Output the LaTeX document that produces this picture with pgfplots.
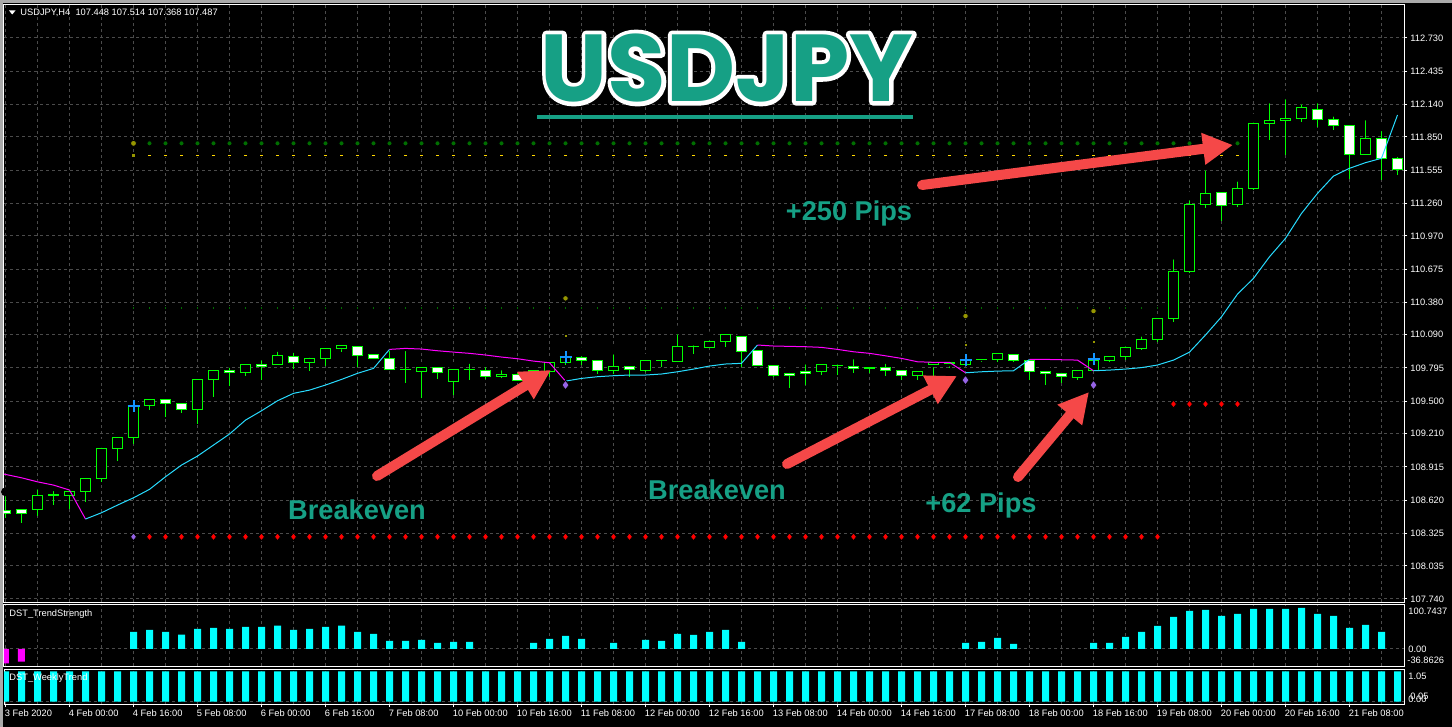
\documentclass[border=0pt]{standalone}
\usepackage{pgfplots}
\pgfplotsset{compat=1.18}
\usepackage{pgfplotstable}
\usetikzlibrary{arrows.meta}
\usepackage{fontspec}
\setmainfont{Liberation Sans}
\newfontfamily\titlefont{Poppins}
\newcommand\tf{\fontsize{4.65}{5.5}\selectfont}
\definecolor{cgreen}{RGB}{0,255,0}
\definecolor{mag}{RGB}{255,0,255}
\definecolor{tcyan}{RGB}{40,220,255}
\definecolor{bcyan}{RGB}{0,255,255}
\definecolor{gridgray}{RGB}{75,75,75}
\definecolor{tealtxt}{RGB}{22,160,133}
\definecolor{arrowred}{RGB}{245,72,72}
\definecolor{dkgreen}{RGB}{0,110,0}
\definecolor{dotyellow}{RGB}{255,215,0}
\definecolor{olive2}{RGB}{150,150,0}
\definecolor{mpurple}{RGB}{150,100,230}
\definecolor{crossblue}{RGB}{20,150,255}
\definecolor{bordergray}{RGB}{170,170,170}

\pgfplotstableread{
i O H L C
0 108.531 108.693 108.457 108.501
1 108.537 108.575 108.412 108.501
2 108.537 108.753 108.477 108.664
3 108.664 108.738 108.575 108.669
4 108.658 108.709 108.540 108.697
5 108.693 108.851 108.604 108.813
6 108.813 109.124 108.782 109.080
7 109.080 109.198 108.969 109.177
8 109.177 109.494 109.118 109.456
9 109.459 109.545 109.420 109.516
10 109.516 109.520 109.361 109.480
11 109.480 109.494 109.396 109.427
12 109.427 109.717 109.296 109.693
13 109.693 109.800 109.539 109.774
14 109.774 109.836 109.637 109.756
15 109.756 109.845 109.726 109.827
16 109.830 109.901 109.687 109.809
17 109.827 109.978 109.827 109.910
18 109.898 109.969 109.788 109.845
19 109.845 109.925 109.770 109.880
20 109.880 109.990 109.812 109.969
21 109.969 109.999 109.939 109.999
22 109.990 110.014 109.806 109.910
23 109.916 109.934 109.871 109.880
24 109.880 109.984 109.782 109.782
25 109.782 109.984 109.663 109.785
26 109.761 109.800 109.524 109.800
27 109.800 109.821 109.693 109.756
28 109.672 109.806 109.554 109.785
29 109.783 109.871 109.687 109.785
30 109.770 109.841 109.693 109.723
31 109.717 109.812 109.702 109.738
32 109.738 109.791 109.681 109.687
33 109.717 109.791 109.702 109.770
34 109.761 109.841 109.717 109.841
35 109.845 109.939 109.821 109.889
36 109.889 109.939 109.821 109.859
37 109.865 109.889 109.741 109.770
38 109.770 109.954 109.741 109.812
39 109.812 109.836 109.717 109.782
40 109.776 109.880 109.761 109.865
41 109.859 109.894 109.806 109.862
42 109.850 110.132 109.850 109.990
43 109.984 110.034 109.916 109.987
44 109.978 110.079 109.978 110.034
45 110.028 110.112 109.984 110.094
46 110.079 110.103 109.800 109.939
47 109.948 109.984 109.818 109.818
48 109.814 109.845 109.711 109.726
49 109.747 109.791 109.613 109.726
50 109.767 109.865 109.643 109.747
51 109.761 109.845 109.732 109.830
52 109.814 109.865 109.732 109.818
53 109.812 109.910 109.747 109.791
54 109.791 109.836 109.747 109.800
55 109.800 109.871 109.726 109.770
56 109.770 109.806 109.687 109.726
57 109.726 109.791 109.687 109.767
58 109.827 109.841 109.702 109.841
59 109.839 109.847 109.791 109.841
60 109.830 109.925 109.821 109.865
61 109.871 109.894 109.845 109.874
62 109.871 109.960 109.850 109.925
63 109.916 109.939 109.845 109.859
64 109.865 109.871 109.687 109.761
65 109.767 109.797 109.643 109.743
66 109.747 109.791 109.658 109.717
67 109.711 109.800 109.687 109.776
68 109.770 109.939 109.770 109.865
69 109.865 109.936 109.847 109.901
70 109.901 110.025 109.865 109.981
71 109.969 110.112 109.954 110.049
72 110.049 110.236 110.023 110.236
73 110.236 110.799 110.206 110.651
74 110.651 111.324 110.642 111.250
75 111.250 111.591 111.220 111.348
76 111.357 111.378 111.104 111.238
77 111.250 111.491 111.229 111.393
78 111.389 112.016 111.378 111.971
79 111.971 112.187 111.822 112.000
80 111.994 112.223 111.689 112.016
81 112.016 112.178 111.985 112.113
82 112.096 112.187 111.941 112.007
83 112.007 112.069 111.911 111.953
84 111.956 111.985 111.476 111.695
85 111.695 112.036 111.695 111.838
86 111.838 111.941 111.467 111.660
87 111.660 111.710 111.511 111.556
}\ohlc

\pgfplotstableread{
i g yl s r
8 nan nan 110.330 nan
9 111.793 111.683 110.330 108.293
10 111.793 111.683 110.330 108.293
11 111.793 111.683 110.330 108.293
12 111.793 111.683 110.330 108.293
13 111.793 111.683 110.330 108.293
14 111.793 111.683 110.330 108.293
15 111.793 111.683 110.330 108.293
16 111.793 111.683 110.330 108.293
17 111.793 111.683 110.330 108.293
18 111.793 111.683 110.330 108.293
19 111.793 111.683 110.330 108.293
20 111.793 111.683 110.330 108.293
21 111.793 111.683 110.330 108.293
22 111.793 111.683 110.330 108.293
23 111.793 111.683 110.330 108.293
24 111.793 111.683 110.330 108.293
25 111.793 111.683 110.330 108.293
26 111.793 111.683 110.330 108.293
27 111.793 111.683 110.330 108.293
28 111.793 111.683 110.330 108.293
29 111.793 111.683 110.330 108.293
30 111.793 111.683 110.330 108.293
31 111.793 111.683 110.330 108.293
32 111.793 111.683 110.330 108.293
33 111.793 111.683 110.330 108.293
34 111.793 111.683 110.330 108.293
35 111.793 111.683 110.330 108.293
36 111.793 111.683 110.330 108.293
37 111.793 111.683 110.330 108.293
38 111.793 111.683 110.330 108.293
39 111.793 111.683 110.330 108.293
40 111.793 111.683 110.330 108.293
41 111.793 111.683 110.330 108.293
42 111.793 111.683 110.330 108.293
43 111.793 111.683 110.330 108.293
44 111.793 111.683 110.330 108.293
45 111.793 111.683 110.330 108.293
46 111.793 111.683 110.330 108.293
47 111.793 111.683 110.330 108.293
48 111.793 111.683 110.330 108.293
49 111.793 111.683 110.330 108.293
50 111.793 111.683 110.330 108.293
51 111.793 111.683 110.330 108.293
52 111.793 111.683 110.330 108.293
53 111.793 111.683 110.330 108.293
54 111.793 111.683 110.330 108.293
55 111.793 111.683 110.330 108.293
56 111.793 111.683 110.330 108.293
57 111.793 111.683 110.330 108.293
58 111.793 111.683 110.330 108.293
59 111.793 111.683 110.330 108.293
60 111.793 111.683 110.330 108.293
61 111.793 111.683 110.330 108.293
62 111.793 111.683 110.330 108.293
63 111.793 111.683 110.330 108.293
64 111.793 111.683 110.330 108.293
65 111.793 111.683 110.330 108.293
66 111.793 111.683 110.330 108.293
67 111.793 111.683 110.330 108.293
68 111.793 111.683 110.330 108.293
69 111.793 111.683 110.330 108.293
70 111.793 111.683 110.330 108.293
71 111.793 111.683 110.330 108.293
72 111.793 111.683 110.330 108.293
73 111.793 111.683 nan 109.474
74 111.793 111.683 nan 109.474
75 111.793 111.683 nan 109.474
76 111.793 111.683 nan 109.474
77 111.793 111.683 nan 109.474
}\dotrows

\pgfplotstableread{
i v
8 39.0
9 43.6
10 39.0
11 32.9
12 45.9
13 48.2
14 45.9
15 50.5
16 50.5
17 53.5
18 43.6
19 45.9
20 50.5
21 53.5
22 39.0
23 34.4
24 18.3
25 18.3
26 20.6
27 13.8
28 16.1
29 16.1
33 13.8
34 22.9
35 29.8
36 22.9
38 13.8
40 20.6
41 18.3
42 34.4
43 32.1
44 39.0
45 43.6
46 16.1
60 13.8
61 16.1
62 25.2
63 11.5
68 13.8
69 13.8
70 27.5
71 39.0
72 52.8
73 73.4
74 87.2
75 89.4
76 75.7
77 80.3
78 91.7
79 91.7
80 91.7
81 94.0
82 80.3
83 75.7
84 48.2
85 55.0
86 39.0
}\strength

\newcommand\titletext{\titlefont\bfseries\fontsize{47.5}{48}\selectfont USDJPY}

\begin{document}
\begin{tikzpicture}
\useasboundingbox (0,0) rectangle (726pt,-363.5pt);
\fill[black] (0,0) rectangle (726pt,-363.5pt);
\fill[bordergray] (0,0) rectangle (726pt,-1.5pt);
\fill[bordergray] (0,0) rectangle (1.5pt,-363.5pt);

% ---------------- main price panel ----------------
\begin{axis}[
  at={(2pt,-2.5pt)}, anchor=north west,
  scale only axis, width=700pt, height=298.5pt,
  xmin=-0.09375, xmax=87.40625, ymin=107.712, ymax=113.0235,
  axis line style={white, line width=0.5pt},
  xtick={0,2,...,86}, xticklabels={}, x tick style={draw=none},
  xmajorgrids, ymajorgrids,
  grid style={draw=gridgray, dash pattern=on 1.5pt off 1.5pt, line width=0.5pt},
  ytick={107.740,108.035,108.325,108.620,108.915,109.210,109.500,109.795,110.090,110.380,110.675,110.970,111.260,111.555,111.850,112.140,112.435,112.730},
  yticklabels={107.740,108.035,108.325,108.620,108.915,109.210,109.500,109.795,110.090,110.380,110.675,110.970,111.260,111.555,111.850,112.140,112.435,112.730},
  ytick pos=right, yticklabel pos=right,
  tick align=outside, major tick length=1.5pt,
  y tick style={white, line width=0.5pt},
  yticklabel style={font=\tf, text=white, anchor=west, inner sep=0pt, xshift=1.5pt},
  /pgf/number format/assume math mode=true,
  clip mode=individual,
]
% wicks
\addplot[only marks, mark=none, forget plot, error bars/.cd, y dir=minus, y explicit, error mark=none,
  error bar style={draw=cgreen, line width=0.5pt, solid}]
  table[x=i, y=H, y error minus expr={\thisrow{H}-\thisrow{L}}] {\ohlc};
% candle bodies: one closed rectangle per row of the table
\pgfplotsinvokeforeach{0,...,87}{%
  \pgfplotstablegetelem{#1}{O}\of\ohlc \edef\vO{\pgfplotsretval}%
  \pgfplotstablegetelem{#1}{C}\of\ohlc \edef\vC{\pgfplotsretval}%
  \pgfmathsetmacro\vTop{max(\vO,\vC)}%
  \pgfmathsetmacro\vBot{min(\vO,\vC)}%
  \pgfmathsetmacro\xa{#1-0.285}%
  \pgfmathsetmacro\xb{#1+0.285}%
  \pgfmathparse{\vC>\vO ? 1 : 0}%
  \ifdim\pgfmathresult pt>0.5pt \def\bodycol{black}\else\def\bodycol{white}\fi
  \edef\doplot{\noexpand\addplot[draw=cgreen, line width=0.5pt, fill=\bodycol, forget plot] coordinates {(\xa,\vBot) (\xb,\vBot) (\xb,\vTop) (\xa,\vTop)} --cycle;}%
  \doplot
}

% trend lines
\addplot[mag, line width=0.5pt, mark=none] coordinates {(-0.1,108.851) (0,108.848) (1,108.818) (2,108.782) (3,108.753) (4,108.709) (5,108.451)};
\addplot[tcyan, line width=0.5pt, mark=none] coordinates {(5,108.451) (6,108.507) (7,108.575) (8,108.640) (9,108.715) (10,108.827) (11,108.931) (12,109.011) (13,109.109) (14,109.207) (15,109.331) (16,109.414) (17,109.503) (18,109.569) (19,109.598) (20,109.643) (21,109.693) (22,109.747) (23,109.791) (24,109.960)};
\addplot[mag, line width=0.5pt, mark=none] coordinates {(24,109.960) (25,109.969) (26,109.963) (27,109.948) (28,109.936) (29,109.925) (30,109.910) (31,109.892) (32,109.877) (33,109.856) (34,109.841) (35,109.678)};
\addplot[tcyan, line width=0.5pt, mark=none] coordinates {(35,109.678) (36,109.702) (37,109.717) (38,109.726) (39,109.732) (40,109.732) (41,109.741) (42,109.761) (43,109.785) (44,109.812) (45,109.830) (46,109.836) (47,109.999)};
\addplot[mag, line width=0.5pt, mark=none] coordinates {(47,109.999) (48,109.990) (49,109.987) (50,109.984) (51,109.978) (52,109.960) (53,109.939) (54,109.925) (55,109.903) (56,109.880) (57,109.850) (58,109.845) (59,109.845) (60,109.752)};
\addplot[tcyan, line width=0.5pt, mark=none] coordinates {(60,109.752) (61,109.761) (62,109.767) (63,109.770) (64,109.871)};
\addplot[mag, line width=0.5pt, mark=none] coordinates {(64,109.871) (65,109.871) (66,109.868) (67,109.865) (68,109.770)};
\addplot[tcyan, line width=0.5pt, mark=none] coordinates {(68,109.770) (69,109.776) (70,109.785) (71,109.798) (72,109.821) (73,109.865) (74,109.936) (75,110.088) (76,110.250) (77,110.452) (78,110.592) (79,110.784) (80,110.948) (81,111.170) (82,111.348) (83,111.502) (84,111.571) (85,111.621) (86,111.660) (87,112.045)};

% dotted levels
\addplot[only marks, mark=*, mark size=1.3pt, mark options={draw=none, fill=dkgreen}] table[x=i, y=g] {\dotrows};
\addplot[only marks, mark=square*, mark size=0.9pt, mark options={draw=none, fill=dotyellow, yscale=0.65}] table[x=i, y=yl] {\dotrows};
\addplot[only marks, mark=square*, mark size=0.55pt, mark options={draw=none, fill=dkgreen}] table[x=i, y=s] {\dotrows};
\addplot[only marks, mark=diamond*, mark size=2pt, mark options={draw=none, fill=red}] table[x=i, y=r] {\dotrows};
\addplot[only marks, mark=*, mark size=1.5pt, mark options={draw=none, fill=olive2}] coordinates {(8,111.793)};
\addplot[only marks, mark=square*, mark size=0.9pt, mark options={draw=none, fill=olive2}] coordinates {(8,111.683)};
\addplot[only marks, mark=diamond*, mark size=2pt, mark options={draw=none, fill=mpurple}] coordinates {(8,108.293)};
% signals
\addplot[only marks, mark=diamond*, mark size=2.4pt, mark options={draw=none, fill=mpurple}] coordinates {(35,109.643) (60,109.687) (68,109.643)};
\addplot[only marks, mark=+, mark size=3pt, mark options={draw=crossblue, line width=1pt}] coordinates {(8,109.456) (35,109.889) (60,109.865) (68,109.871)};
\addplot[only marks, mark=*, mark size=1.4pt, mark options={draw=none, fill=olive2}] coordinates {(35,110.414) (60,110.257) (68,110.301)};
\addplot[only marks, mark=square*, mark size=0.7pt, mark options={draw=none, fill=olive2}] coordinates {(35,110.079) (60,110.000) (68,110.028)};
\end{axis}

% ---------------- DST_TrendStrength ----------------
\begin{axis}[
  at={(2pt,-302pt)}, anchor=north west,
  scale only axis, width=700pt, height=31pt,
  xmin=-0.09375, xmax=87.40625, ymin=-39.15, ymax=103.0,
  axis line style={white, line width=0.5pt},
  xtick={0,2,...,86}, xticklabels={}, x tick style={draw=none},
  ytick={0}, yticklabels={}, y tick style={draw=none},
  xmajorgrids, ymajorgrids,
  grid style={draw=gridgray, dash pattern=on 1.5pt off 1.5pt, line width=0.5pt},
  clip mode=individual,
]
\addplot[ybar, bar width=3.5pt, fill=bcyan, draw=none] table[x=i, y=v] {\strength};
\addplot[ybar, bar width=3.5pt, fill=mag, draw=none] coordinates {(0,-32.9) (1,-29.1)};
\end{axis}

% ---------------- DST_WeeklyTrend ----------------
\begin{axis}[
  at={(2pt,-334.5pt)}, anchor=north west,
  scale only axis, width=700pt, height=17.5pt,
  xmin=-0.09375, xmax=87.40625, ymin=-0.08, ymax=1.08,
  axis line style={white, line width=0.5pt},
  xtick={0,4,...,84}, minor xtick={2,6,...,86},
  xticklabels={3 Feb 2020,4 Feb 00:00,4 Feb 16:00,5 Feb 08:00,6 Feb 00:00,6 Feb 16:00,7 Feb 08:00,10 Feb 00:00,10 Feb 16:00,11 Feb 08:00,12 Feb 00:00,12 Feb 16:00,13 Feb 08:00,14 Feb 00:00,14 Feb 16:00,17 Feb 08:00,18 Feb 00:00,18 Feb 16:00,19 Feb 08:00,20 Feb 00:00,20 Feb 16:00,21 Feb 08:00},
  xtick pos=left, tick align=outside, major tick length=1.5pt, minor tick length=0pt,
  x tick style={white, line width=0.5pt},
  xticklabel style={font=\tf, text=white, anchor=north west, inner sep=0pt, xshift=-0.5pt, yshift=-1pt},
  ytick={0}, yticklabels={}, y tick style={draw=none},
  xmajorgrids, xminorgrids, ymajorgrids,
  grid style={draw=gridgray, dash pattern=on 1.5pt off 1.5pt, line width=0.5pt},
  minor grid style={draw=gridgray, dash pattern=on 1.5pt off 1.5pt, line width=0.5pt},
  clip mode=individual,
]
\addplot[ybar, bar width=3.5pt, fill=bcyan, draw=none] coordinates {(0,1) (1,1) (2,1) (3,1) (4,1) (5,1) (6,1) (7,1) (8,1) (9,1) (10,1) (11,1) (12,1) (13,1) (14,1) (15,1) (16,1) (17,1) (18,1) (19,1) (20,1) (21,1) (22,1) (23,1) (24,1) (25,1) (26,1) (27,1) (28,1) (29,1) (30,1) (31,1) (32,1) (33,1) (34,1) (35,1) (36,1) (37,1) (38,1) (39,1) (40,1) (41,1) (42,1) (43,1) (44,1) (45,1) (46,1) (47,1) (48,1) (49,1) (50,1) (51,1) (52,1) (53,1) (54,1) (55,1) (56,1) (57,1) (58,1) (59,1) (60,1) (61,1) (62,1) (63,1) (64,1) (65,1) (66,1) (67,1) (68,1) (69,1) (70,1) (71,1) (72,1) (73,1) (74,1) (75,1) (76,1) (77,1) (78,1) (79,1) (80,1) (81,1) (82,1) (83,1) (84,1) (85,1) (86,1) (87,1)};
\end{axis}

% ---------------- annotations (pixel coordinates) ----------------
\begin{scope}[x=0.5pt, y=-0.5pt]
  % header
  \fill[white] (9,10.5) -- (15.5,10.5) -- (12.25,14.5) -- cycle;
  \node[anchor=west, inner sep=0pt, text=white, font=\tf] at (20,12.5) {USDJPY,H4\ \ 107.448 107.514 107.368 107.487};
  % sub panel titles
  \node[anchor=west, inner sep=0pt, text=white, font=\tf] at (9,613.7) {DST\_TrendStrength};
  \node[anchor=west, inner sep=0pt, text=white, font=\tf] at (9,677.7) {DST\_WeeklyTrend};
  % sub panel scale labels
  \node[anchor=west, inner sep=0pt, text=white, font=\tf] at (1408,611.7) {100.7437};
  \node[anchor=west, inner sep=0pt, text=white, font=\tf] at (1408,649.3) {0.00};
  \node[anchor=west, inner sep=0pt, text=white, font=\tf] at (1407,660) {-36.8626};
  \node[anchor=west, inner sep=0pt, text=white, font=\tf] at (1408,676) {1.05};
  \node[anchor=west, inner sep=0pt, text=white, font=\tf] at (1408,699.5) {0.00};
  \node[anchor=west, inner sep=0pt, text=white, font=\tf] at (1410,696) {0.05};
  % title: white stroked outline, then teal fill
  \node[inner sep=0pt] at (727,68) {\color{white}\special{pdf:literal direct 1 Tr 4.2 w 1 j 1 J}\titletext\special{pdf:literal direct 0 Tr}};
  \node[text=tealtxt, inner sep=0pt] at (727,68) {\titletext};
  \fill[tealtxt] (537,115) rectangle (913,119);
  % arrows
  \draw[arrowred, line width=5pt, line cap=round, -{Triangle[length=15pt,width=15pt]}] (922,185) -- (1233,145);
  \draw[arrowred, line width=5pt, line cap=round, -{Triangle[length=15pt,width=15pt]}] (377,476) -- (551,370);
  \draw[arrowred, line width=5pt, line cap=round, -{Triangle[length=15pt,width=15pt]}] (787,464) -- (957,376);
  \draw[arrowred, line width=5pt, line cap=round, -{Triangle[length=15pt,width=15pt]}] (1018,477) -- (1089,392);
  % labels
  \node[text=tealtxt, font=\bfseries\fontsize{13.6}{14}\selectfont, inner sep=0pt] at (849,213) {+250 Pips};
  \node[text=tealtxt, font=\bfseries\fontsize{13.6}{14}\selectfont, inner sep=0pt] at (357,510) {Breakeven};
  \node[text=tealtxt, font=\bfseries\fontsize{13.6}{14}\selectfont, inner sep=0pt] at (717,490) {Breakeven};
  \node[text=tealtxt, font=\bfseries\fontsize{13.6}{14}\selectfont, inner sep=0pt] at (981,505) {+62 Pips};
\end{scope}
\end{tikzpicture}
\end{document}
